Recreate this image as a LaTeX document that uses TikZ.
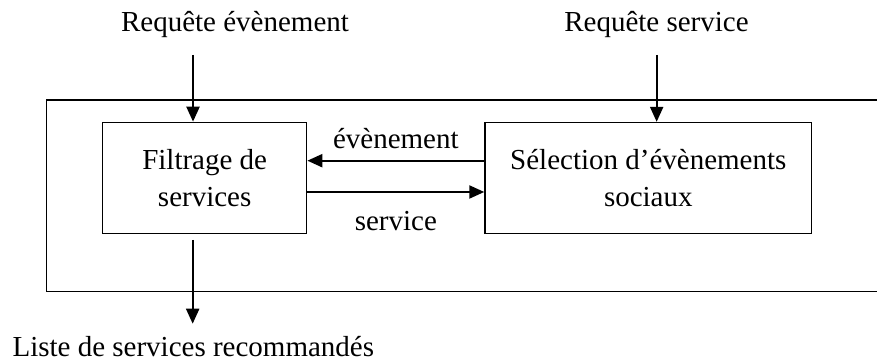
\documentclass[tikz,border=0pt]{standalone}
\usepackage{fontspec}
\setmainfont{Liberation Serif}
\usetikzlibrary{arrows.meta}

\begin{document}
\begin{tikzpicture}[>={Triangle[length=7.5pt,width=6.5pt]},x=1.0cm,y=1.0cm,
		font=\fontsize{14.5}{18.5}\selectfont,
		bloc/.style={draw,line width=0.7pt,align=center,inner sep=0pt},
		fleche/.style={->,line width=1.1pt}]
		\useasboundingbox (0,0) rectangle (15.412,6.361);
		\draw[line width=0.7pt] (15.412,4.604) -- (0.817,4.604) -- (0.817,1.239) -- (15.412,1.239);
		\node[bloc,minimum width=3.585cm,minimum height=1.951cm] (filtrage) at (3.597,3.235) {Filtrage de\\services};
		\node[bloc,minimum width=5.741cm,minimum height=1.945cm] (selection) at (11.393,3.235) {Sélection d’évènements\\sociaux};
		\node[anchor=base] (reqevt) at (4.13,5.799) {Requête évènement};
		\node[anchor=base] (reqserv) at (11.537,5.799) {Requête service};
		\node[anchor=base] (liste) at (3.397,0.088) {Liste de services recommandés};
		\coordinate (inevt) at (3.392,5.395);
		\coordinate (inserv) at (11.54,5.395);
		\coordinate (outliste) at (3.386,2.144);
		\draw[fleche] (inevt) -- (inevt |- filtrage.north);
		\draw[fleche] (inserv) -- (inserv |- selection.north);
		\draw[fleche] (outliste) -- ([yshift=3pt]liste.north -| outliste);
		\draw[fleche] ([yshift=0.302cm]selection.west) -- ([yshift=0.302cm]filtrage.east) node[midway,above=2pt] {évènement};
		\draw[fleche] ([yshift=-0.248cm]filtrage.east) -- ([yshift=-0.248cm]selection.west) node[midway,below=6pt] {service};
		
		\end{tikzpicture}
\end{document}
